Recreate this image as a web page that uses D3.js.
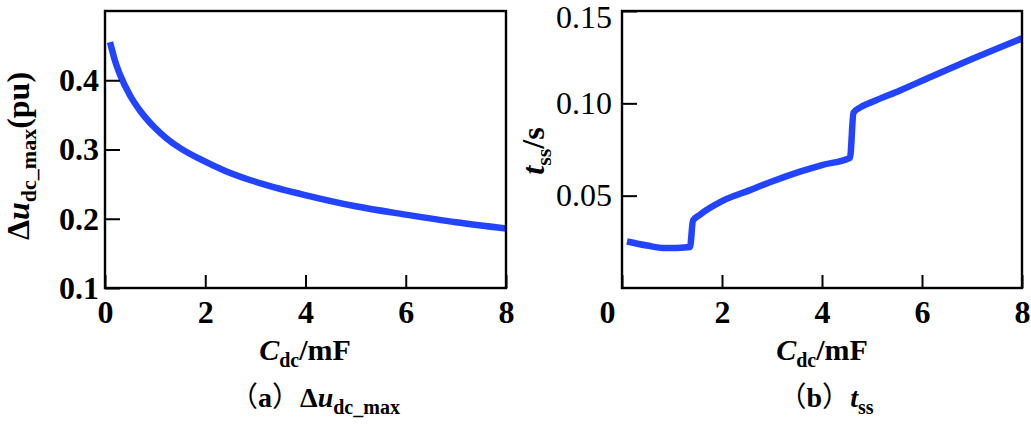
<!DOCTYPE html>
<html lang="zh">
<head>
<meta charset="UTF-8">
<script src="https://cdn.jsdelivr.net/npm/d3@7"></script>
<style>
    body { margin: 0; background: #fff; }
    svg { display: block; }
    .axis path.domain { display: none; }
    .axis line { stroke: #000; stroke-width: 2; }
    .frame { fill: none; stroke: #000; stroke-width: 2.4; }
    .curve { fill: none; stroke: #2244ff; stroke-width: 6.5; stroke-linejoin: round; }
</style>
</head>
<body>
<svg width="1031" height="426"></svg>
<script>
    // (a) max dc voltage deviation vs capacitance
    const capA = [0.1, 0.2, 0.3, 0.5, 0.7, 1.0, 1.23, 1.5, 1.9, 2.4, 2.89, 3.4, 3.89, 5, 6, 7, 8];
    const duMax = [0.455, 0.428, 0.408, 0.378, 0.356, 0.331, 0.316, 0.302, 0.286, 0.269, 0.256, 0.245, 0.236, 0.218, 0.206, 0.195, 0.186];

    // (b) settling time vs capacitance
    const capB = [0.1, 0.5, 0.85, 1.1, 1.36, 1.42, 1.56, 2.0, 2.56, 3.0, 3.56, 4.0, 4.56, 4.63, 4.76, 5.0, 5.56, 6.0, 7.0, 8.0];
    const tss = [0.0252, 0.0230, 0.0216, 0.0217, 0.0222, 0.0365, 0.0397, 0.0470, 0.0530, 0.0577, 0.0630, 0.0666, 0.0705, 0.0949, 0.0977, 0.1007, 0.1070, 0.1122, 0.1240, 0.1352];

    const xTicks = [0, 2, 4, 6, 8];
    const yTicksA = [0.1, 0.2, 0.3, 0.4];
    const yTicksB = [0.05, 0.10, 0.15];

    const SERIF = '"Liberation Serif", "Times New Roman", serif';
    const CJK = '"Noto Sans CJK SC", sans-serif';

    const svg = d3.select("svg");

    function panel(box, xs, ys, yDomain, yTicks, yFmt, yWeight, yPad) {
        const x = d3.scaleLinear().domain([0, 8]).range([box.x0, box.x1]);
        const y = d3.scaleLinear().domain(yDomain).range([box.y1, box.y0]);

        const line = d3.line()
            .x((d, i) => x(xs[i]))
            .y(d => y(d))
            .curve(d3.curveMonotoneX);

        svg.append("path")
            .attr("class", "curve")
            .attr("d", line(ys));

        const gx = svg.append("g")
            .attr("class", "axis")
            .attr("transform", `translate(0, ${box.y1})`)
            .call(d3.axisBottom(x).tickValues(xTicks).tickSizeInner(-13).tickSizeOuter(0).tickPadding(12));

        const gy = svg.append("g")
            .attr("class", "axis")
            .attr("transform", `translate(${box.x0}, 0)`)
            .call(d3.axisLeft(y).tickValues(yTicks).tickFormat(d3.format(yFmt))
                .tickSizeInner(-15).tickSizeOuter(0).tickPadding(yPad));

        gx.selectAll("text")
            .style("font-family", SERIF).style("font-size", "32px")
            .style("font-weight", "bold").style("fill", "#000");
        gy.selectAll("text")
            .style("font-family", SERIF).style("font-size", "32px")
            .style("font-weight", yWeight).style("fill", "#000");

        svg.append("rect")
            .attr("class", "frame")
            .attr("x", box.x0)
            .attr("y", box.y0)
            .attr("width", box.x1 - box.x0)
            .attr("height", box.y1 - box.y0);

        return [x, y, gx, gy];
    }

    function label(x, y, size, rotate) {
        return svg.append("text")
            .attr("transform", rotate ? `translate(${x}, ${y}) rotate(-90)` : `translate(${x}, ${y})`)
            .attr("text-anchor", "middle")
            .style("font-family", SERIF)
            .style("font-weight", "bold")
            .style("font-size", size + "px")
            .style("fill", "#000");
    }

    function xTitle(cx) {
        const t = label(cx, 360, 30, false);
        t.append("tspan").style("font-style", "italic").text("C");
        t.append("tspan").attr("dy", 7).style("font-size", "20px").text("dc");
        t.append("tspan").attr("dy", -7).text("/mF");
    }

    const boxA = {x0: 105, x1: 506, y0: 11, y1: 288};
    const boxB = {x0: 622, x1: 1022, y0: 11, y1: 288};

    panel(boxA, capA, duMax, [0.1, 0.5], yTicksA, ".1f", "bold", 6);
    const [, , gxB, gyB] = panel(boxB, capB, tss, [0, 0.15], yTicksB, ".2f", "normal", 10);

    // the "0" under panel (b) sits left of the axis corner
    gxB.selectAll(".tick text").filter(d => d === 0).attr("dx", -15);
    gyB.selectAll(".tick text").filter(d => d === 0.15).attr("dy", "0.5em");

    xTitle(305);
    xTitle(822);

    // y titles
    const ya = label(29, 156, 32, true);
    ya.append("tspan").text("Δ");
    ya.append("tspan").style("font-style", "italic").text("u");
    ya.append("tspan").attr("dy", 7).style("font-size", "22px").text("dc_max");
    ya.append("tspan").attr("dy", -7).text("(pu)");

    const yb = label(544, 151, 32, true);
    yb.append("tspan").style("font-style", "italic").text("t");
    yb.append("tspan").attr("dy", 7).style("font-size", "22px").text("ss");
    yb.append("tspan").attr("dy", -7).text("/s");

    // captions
    const ca = label(315, 407, 28, false);
    ca.append("tspan").style("font-family", CJK).style("font-weight", "normal").text("（");
    ca.append("tspan").text("a");
    ca.append("tspan").style("font-family", CJK).style("font-weight", "normal").text("）");
    ca.append("tspan").text("Δ");
    ca.append("tspan").style("font-style", "italic").text("u");
    ca.append("tspan").attr("dy", 7).style("font-size", "20px").text("dc_max");

    const cb = label(826, 407, 28, false);
    cb.append("tspan").style("font-family", CJK).style("font-weight", "normal").text("（");
    cb.append("tspan").text("b");
    cb.append("tspan").style("font-family", CJK).style("font-weight", "normal").text("）");
    cb.append("tspan").style("font-style", "italic").text("t");
    cb.append("tspan").attr("dy", 7).style("font-size", "20px").text("ss");
</script>
</body>
</html>
